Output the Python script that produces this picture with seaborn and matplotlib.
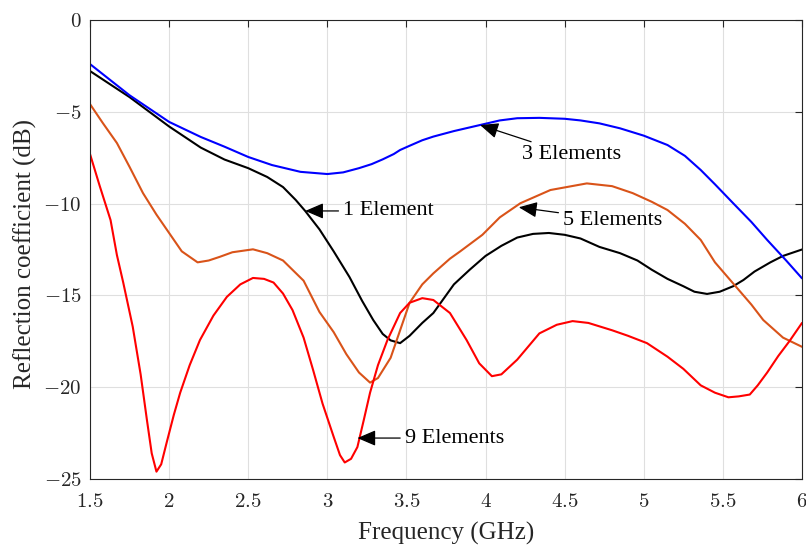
import matplotlib
matplotlib.use("Agg")
import matplotlib.pyplot as plt
import seaborn as sns
import pandas as pd
from matplotlib.ticker import FuncFormatter

# ---- data ----
x_1 = [1.5, 1.75, 2.0, 2.2, 2.35, 2.5, 2.62, 2.72, 2.8, 2.86, 2.95, 3.04, 3.14, 3.22, 3.29, 3.35, 3.4,
       3.46, 3.52, 3.6, 3.67, 3.8, 3.9, 4.0, 4.1, 4.2, 4.3, 4.4, 4.5, 4.6, 4.72, 4.85, 4.96, 5.05, 5.15,
       5.25, 5.32, 5.4, 5.48, 5.565, 5.63, 5.7, 5.8, 5.88, 6.0]
y_1 = [-2.78, -4.2, -5.8, -6.95, -7.6, -8.07, -8.55, -9.1, -9.8, -10.4, -11.4, -12.6, -14.0, -15.3, -16.34,
       -17.1, -17.45, -17.6, -17.2, -16.5, -15.96, -14.4, -13.6, -12.85, -12.3, -11.85, -11.65, -11.6, -11.7,
       -11.9, -12.36, -12.7, -13.1, -13.6, -14.1, -14.5, -14.8, -14.92, -14.8, -14.5, -14.16, -13.7, -13.2,
       -12.85, -12.5]

x_3 = [1.5, 1.75, 2.0, 2.2, 2.35, 2.5, 2.65, 2.83, 3.0, 3.1, 3.2, 3.28, 3.35, 3.42, 3.46, 3.52, 3.6, 3.67,
       3.8, 3.965, 4.09, 4.2, 4.34, 4.5, 4.6, 4.72, 4.85, 5.0, 5.15, 5.26, 5.36, 5.45, 5.565, 5.68, 5.78,
       5.9, 6.0]
y_3 = [-2.4, -4.1, -5.55, -6.37, -6.9, -7.46, -7.9, -8.27, -8.39, -8.3, -8.07, -7.85, -7.59, -7.3, -7.08,
       -6.85, -6.55, -6.35, -6.05, -5.72, -5.47, -5.35, -5.33, -5.38, -5.47, -5.63, -5.9, -6.3, -6.81, -7.4,
       -8.17, -8.95, -9.98, -11.0, -11.98, -13.1, -14.07]

x_5 = [1.5, 1.58, 1.67, 1.75, 1.835, 1.92, 2.0, 2.08, 2.18, 2.25, 2.32, 2.4, 2.53, 2.62, 2.72, 2.85, 2.95,
       3.04, 3.12, 3.2, 3.27, 3.32, 3.4, 3.46, 3.52, 3.6, 3.67, 3.775, 3.84, 3.98, 4.09, 4.22, 4.41, 4.64,
       4.8, 4.93, 5.05, 5.15, 5.26, 5.36, 5.45, 5.53, 5.6, 5.68, 5.755, 5.88, 6.0]
y_5 = [-4.58, -5.6, -6.7, -8.0, -9.43, -10.6, -11.6, -12.6, -13.2, -13.1, -12.9, -12.65, -12.49, -12.7,
       -13.1, -14.2, -15.9, -17.0, -18.2, -19.2, -19.75, -19.5, -18.4, -16.9, -15.4, -14.4, -13.8, -13.0,
       -12.6, -11.7, -10.75, -9.98, -9.26, -8.9, -9.05, -9.43, -9.9, -10.35, -11.1, -11.98, -13.2, -14.0,
       -14.7, -15.5, -16.34, -17.3, -17.8]

x_9 = [1.5, 1.56, 1.63, 1.67, 1.71, 1.77, 1.82, 1.86, 1.89, 1.92, 1.95, 1.985, 2.03, 2.07, 2.13, 2.195,
       2.28, 2.365, 2.45, 2.53, 2.6, 2.66, 2.72, 2.78, 2.85, 2.91, 2.97, 3.04, 3.08, 3.11, 3.15, 3.19, 3.23,
       3.27, 3.32, 3.38, 3.46, 3.52, 3.6, 3.67, 3.775, 3.88, 3.96, 4.04, 4.1, 4.2, 4.34, 4.45, 4.55, 4.65,
       4.8, 4.9, 5.02, 5.15, 5.25, 5.36, 5.45, 5.535, 5.6, 5.67, 5.72, 5.78, 5.85, 5.92, 6.0]
y_9 = [-7.3, -9.0, -10.9, -12.8, -14.3, -16.7, -19.3, -21.8, -23.6, -24.6, -24.2, -23.0, -21.5, -20.3,
       -18.8, -17.43, -16.1, -15.08, -14.4, -14.05, -14.1, -14.3, -14.9, -15.8, -17.3, -19.06, -20.9, -22.7,
       -23.7, -24.1, -23.9, -23.26, -21.8, -20.3, -18.8, -17.43, -15.96, -15.4, -15.15, -15.25, -15.96,
       -17.43, -18.7, -19.4, -19.3, -18.5, -17.07, -16.6, -16.4, -16.5, -16.9, -17.2, -17.6, -18.34, -19.0,
       -19.9, -20.3, -20.55, -20.5, -20.4, -19.9, -19.2, -18.3, -17.5, -16.5]

series_names = ["1 Element", "3 Elements", "5 Elements", "9 Elements"]
series_colors = ["#000000", "#0000FF", "#D95319", "#FF0000"]
x_ticks = [1.5, 2, 2.5, 3, 3.5, 4, 4.5, 5, 5.5, 6]
y_ticks = [-25, -20, -15, -10, -5, 0]

# annotation anchors: (arrow head x, y), (text x, y)
ann_heads = [(2.86, -10.4), (3.965, -5.72), (4.21, -10.2), (3.19, -22.77)]
ann_texts = [(3.1, -10.4), (4.23, -7.35), (4.49, -10.9), (3.49, -22.77)]

frames = []
for name, xs, ys in zip(series_names, [x_1, x_3, x_5, x_9], [y_1, y_3, y_5, y_9]):
    frames.append(pd.DataFrame({"f": xs, "r": ys, "s": name}))
df = pd.concat(frames, ignore_index=True)

sns.set_style("white")
plt.rcParams["font.family"] = ["Liberation Serif", "DejaVu Serif"]
plt.rcParams["mathtext.fontset"] = "cm"

fig = plt.figure(figsize=(8.06, 5.46), dpi=100)
ax = fig.add_axes([90 / 806, 1 - 479 / 546, (802 - 90) / 806, (479 - 20) / 546])

sns.lineplot(data=df, x="f", y="r", hue="s", palette=dict(zip(series_names, series_colors)),
             sort=False, estimator=None, linewidth=1.5, legend=False, ax=ax)

ax.set_xlim(1.5, 6)
ax.set_ylim(-25, 0)
ax.set_xticks(x_ticks)
ax.set_yticks(y_ticks)


def fmt(v, pos):
    s = ("%g" % v)
    if s.startswith("-"):
        return r"$-%s$" % s[1:]
    return r"$%s$" % s


ax.xaxis.set_major_formatter(FuncFormatter(fmt))
ax.yaxis.set_major_formatter(FuncFormatter(fmt))
ax.tick_params(axis="both", which="both", direction="in", length=5, width=0.8, colors="#262626",
               labelsize=15, top=True, right=True, labelcolor="#262626")
ax.tick_params(axis="x", pad=10)
ax.tick_params(axis="y", pad=6)
ax.grid(True, color="#DFDFDF", linewidth=0.8)
ax.set_axisbelow(True)
for sp in ax.spines.values():
    sp.set_color("#262626")
    sp.set_linewidth(0.8)

xl = ax.set_xlabel("Frequency (GHz)", fontsize=18, color="#262626")
yl = ax.set_ylabel("Reflection coefficient (dB)", fontsize=18, color="#262626")
xl.set_va("center")
yl.set_va("center")
ax.xaxis.set_label_coords(0.5, (479 - 533) / 459)
ax.yaxis.set_label_coords((25 - 90) / 712, (479 - 254) / 459)

for name, head, txt in zip(series_names, ann_heads, ann_texts):
    ax.annotate(name, xy=head, xytext=txt, fontsize=16, va="center", ha="left", color="black",
                arrowprops=dict(arrowstyle="-|>,head_length=0.7,head_width=0.3", color="black",
                                lw=0.9, shrinkA=1, shrinkB=0))

fig.savefig("out.png", dpi=100)
